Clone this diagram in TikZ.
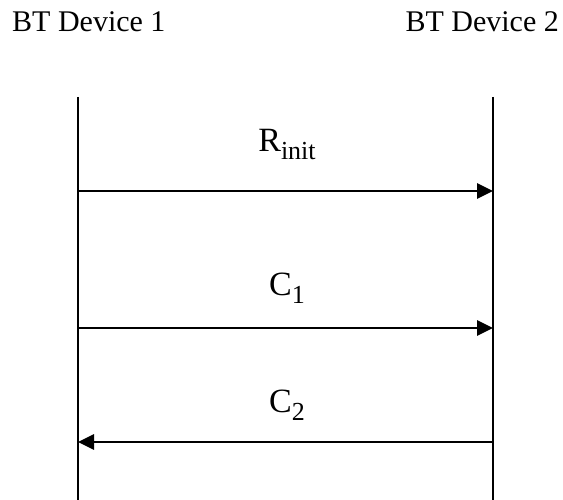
\documentclass[tikz,border=0pt]{standalone}
\usepackage{fontspec}
\setmainfont{Liberation Serif}
\usetikzlibrary{arrows.meta}
\newcommand{\lowsub}[1]{\raisebox{-8pt}{\fontsize{26}{26}\selectfont #1}}
\tikzset{
  lifeline/.style={line width=2.6pt},
  msgarrow/.style={line width=2.8pt,-{Triangle[length=16pt,width=15pt]}},
  devlabel/.style={font=\fontsize{30}{36}\selectfont,inner sep=0pt},
  msglabel/.style={font=\fontsize{34}{40}\selectfont,inner sep=0pt,anchor=base},
}

\begin{document}
\begin{tikzpicture}[x=1pt,y=-1pt]
  \useasboundingbox (0,0) rectangle (563,500);
  \node[devlabel,anchor=base west] (devone) at (12,32) {BT Device 1};
  \node[devlabel,anchor=base east] (devtwo) at (559,32) {BT Device 2};
  % lifelines of the two devices
  \foreach \xx/\nm in {78/one,493/two}{
    \coordinate (\nm top) at (\xx,97);
    \coordinate (\nm bot) at (\xx,500);
    \draw[lifeline] (\nm top) -- (\nm bot);
  }
  % messages
  \coordinate (rinitL) at (78,191);
  \coordinate (rinitR) at (493,191);
  \coordinate (cOneL) at (78,328);
  \coordinate (cOneR) at (493,328);
  \coordinate (cTwoL) at (78,442);
  \coordinate (cTwoR) at (493,442);
  \draw[msgarrow] (rinitL) -- (rinitR);
  \draw[msgarrow] (cOneL) -- (cOneR);
  \draw[msgarrow] (cTwoR) -- (cTwoL);
  \node[msglabel] (rinit) at (287,152) {R\lowsub{init}};
  \node[msglabel] (cone) at (287,295) {C\lowsub{1}};
  \node[msglabel] (ctwo) at (287,412) {C\lowsub{2}};
\end{tikzpicture}
\end{document}
